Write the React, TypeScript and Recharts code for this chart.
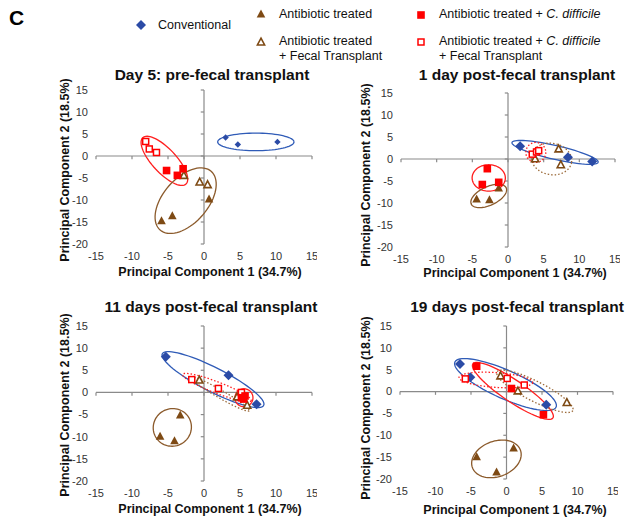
import React from "react";
import { ScatterChart, Scatter, XAxis, YAxis, ReferenceLine } from "recharts";

type Pt = { x: number; y: number };
type Group = "conventional" | "abx" | "abxFT" | "cdiff" | "cdiffFT";
type Ring = { group: Group; cx: number; cy: number; a: number; b: number; angle: number };

const xTicks = [-15, -10, -5, 0, 5, 10, 15];
const yTicks = [-20, -15, -10, -5, 0, 5, 10, 15];

const xTitle = "Principal Component 1 (34.7%)";
const yTitle = "Principal Component 2 (18.5%)";

// Day 5: pre-fecal transplant
const d5Conventional: Pt[] = [{ x: 3.0, y: 4.2 }, { x: 4.7, y: 2.6 }, { x: 10.2, y: 3.2 }];
const d5Abx: Pt[] = [{ x: -5.9, y: -14.7 }, { x: -4.4, y: -13.6 }, { x: 0.7, y: -9.8 }];
const d5AbxFT: Pt[] = [{ x: -2.8, y: -4.4 }, { x: -0.6, y: -5.9 }, { x: 0.5, y: -6.5 }];
const d5Cdiff: Pt[] = [{ x: -5.2, y: -3.3 }, { x: -3.7, y: -4.4 }, { x: -2.9, y: -2.9 }];
const d5CdiffFT: Pt[] = [{ x: -8.1, y: 3.3 }, { x: -7.6, y: 1.6 }, { x: -6.6, y: 0.8 }];
const d5Rings: Ring[] = [
  { group: "conventional", cx: 7.2, cy: 3.2, a: 5.3, b: 1.22, angle: 0 },
  { group: "cdiff", cx: -5.5, cy: -1.1, a: 4.4, b: 1.67, angle: 47 },
  { group: "abx", cx: -2.55, cy: -10.15, a: 5.4, b: 3.1, angle: -49 },
];

// 1 day post-fecal transplant
const d1Conventional: Pt[] = [{ x: 1.7, y: 2.9 }, { x: 8.4, y: 0.4 }, { x: 11.8, y: -0.55 }];
const d1Abx: Pt[] = [{ x: -4.4, y: -9.1 }, { x: -2.6, y: -9.25 }, { x: -1.3, y: -6.6 }];
const d1AbxFT: Pt[] = [{ x: 3.8, y: 0.05 }, { x: 7.1, y: 2.3 }, { x: 7.4, y: -1.3 }];
const d1Cdiff: Pt[] = [{ x: -2.9, y: -2.2 }, { x: -3.6, y: -5.8 }, { x: -1.3, y: -5.3 }];
const d1CdiffFT: Pt[] = [{ x: 3.4, y: 1.1 }, { x: 4.0, y: 1.6 }, { x: 4.3, y: 1.9 }];
const d1Rings: Ring[] = [
  { group: "conventional", cx: 6.6, cy: 1.5, a: 6.2, b: 0.97, angle: 12.9 },
  { group: "cdiffFT", cx: 3.9, cy: 1.5, a: 1.4, b: 1.4, angle: 0 },
  { group: "abxFT", cx: 6.1, cy: 0, a: 2.85, b: 2.2, angle: 10 },
  { group: "cdiff", cx: -2.7, cy: -4.3, a: 2.33, b: 1.85, angle: 0 },
  { group: "abx", cx: -2.7, cy: -8.4, a: 2.7, b: 1.3, angle: -25 },
];

// 11 days post-fecal transplant
const d11Conventional: Pt[] = [{ x: -5.3, y: 8.05 }, { x: 3.4, y: 3.9 }, { x: 7.3, y: -2.65 }];
const d11Abx: Pt[] = [{ x: -3.3, y: -5.1 }, { x: -6.1, y: -9.9 }, { x: -4.1, y: -10.9 }];
const d11AbxFT: Pt[] = [{ x: -0.65, y: 2.8 }, { x: 4.6, y: -1.0 }, { x: 6.0, y: -2.9 }];
const d11Cdiff: Pt[] = [{ x: 5.2, y: -1.2 }, { x: 5.7, y: -0.8 }, { x: 5.5, y: -1.5 }];
const d11CdiffFT: Pt[] = [{ x: -1.7, y: 2.9 }, { x: 2.0, y: 0.9 }, { x: 5.2, y: 0 }];
const d11Rings: Ring[] = [
  { group: "conventional", cx: 1.25, cy: 2.9, a: 7.9, b: 1.67, angle: 27 },
  { group: "cdiffFT", cx: 1.8, cy: 1.1, a: 5.1, b: 0.78, angle: 21 },
  { group: "abxFT", cx: 2.3, cy: -0.4, a: 4.6, b: 0.55, angle: 30 },
  { group: "cdiff", cx: 5.55, cy: -1.2, a: 1.25, b: 1.25, angle: 0 },
  { group: "abx", cx: -4.4, cy: -7.9, a: 2.67, b: 2.6, angle: -30 },
];

// 19 days post-fecal transplant
const d19Conventional: Pt[] = [{ x: -6.55, y: 6.3 }, { x: -5.1, y: 3.3 }, { x: 5.6, y: -3.0 }];
const d19Abx: Pt[] = [{ x: -4.2, y: -14.9 }, { x: -1.4, y: -18.4 }, { x: 1.0, y: -12.9 }];
const d19AbxFT: Pt[] = [{ x: -0.84, y: 3.6 }, { x: 1.6, y: 0.15 }, { x: 8.5, y: -2.5 }];
const d19Cdiff: Pt[] = [{ x: -4.2, y: 5.8 }, { x: 0.7, y: 0.7 }, { x: 5.2, y: -5.3 }];
const d19CdiffFT: Pt[] = [{ x: -5.8, y: 2.9 }, { x: 0.1, y: 3.0 }, { x: 2.5, y: 1.5 }];
const d19Rings: Ring[] = [
  { group: "conventional", cx: -0.14, cy: 1.6, a: 7.8, b: 2.0, angle: 24 },
  { group: "cdiff", cx: 0.9, cy: 0.15, a: 6.8, b: 1.53, angle: 34 },
  { group: "cdiffFT", cx: -1.5, cy: 2.65, a: 5.2, b: 1.04, angle: 4 },
  { group: "abxFT", cx: 4.0, cy: 0.07, a: 6.0, b: 1.4, angle: 27 },
  { group: "abx", cx: -1.42, cy: -15.4, a: 3.6, b: 2.5, angle: -20 },
];

const FONT = "Arial, 'Liberation Sans', sans-serif";

const ringStyle: Record<Group, { color: string; dash?: string }> = {
  conventional: { color: "#2F5BB7" },
  abx: { color: "#8B5A2B" },
  abxFT: { color: "#9C6B3A", dash: "1.5 2" },
  cdiff: { color: "#FF1F1F" },
  cdiffFT: { color: "#FF1F1F", dash: "1.5 2" },
};

// ellipse outline in data units; a, b given in x-units, angle clockwise on screen
const ringPoints = (r: Ring, yRatio: number): Pt[] => {
  const th = (r.angle * Math.PI) / 180;
  const out: Pt[] = [];
  for (let i = 0; i <= 72; i++) {
    const t = (i / 72) * Math.PI * 2;
    const sx = r.a * Math.cos(t) * Math.cos(th) - r.b * Math.sin(t) * Math.sin(th);
    const sy = r.a * Math.cos(t) * Math.sin(th) + r.b * Math.sin(t) * Math.cos(th);
    out.push({ x: r.cx + sx, y: r.cy - sy * yRatio });
  }
  return out;
};

const Marker = ({ kind, cx, cy, big }: { kind: Group; cx: number; cy: number; big?: boolean }) => {
  if (kind === "conventional") {
    const r = big ? 5 : 3.2;
    return <path d={`M${cx},${cy - r}L${cx + r},${cy}L${cx},${cy + r}L${cx - r},${cy}Z`} fill="#2B4BA6" />;
  }
  if (kind === "abx")
    return <path d={`M${cx},${cy - 4.5}L${cx + 4.3},${cy + 3.5}L${cx - 4.3},${cy + 3.5}Z`} fill="#7E4A14" />;
  if (kind === "abxFT")
    return (
      <path
        d={`M${cx},${cy - 3.8}L${cx + 3.6},${cy + 3}L${cx - 3.6},${cy + 3}Z`}
        fill="#fff"
        stroke="#7E4A14"
        strokeWidth={1.6}
      />
    );
  if (kind === "cdiff") return <rect x={cx - 3.8} y={cy - 3.8} width={7.6} height={7.6} fill="#FF0000" />;
  return <rect x={cx - 3} y={cy - 3} width={6} height={6} fill="#fff" stroke="#FF0000" strokeWidth={1.5} />;
};

type PanelProps = {
  left: number;
  top: number;
  pw: number;
  ph: number;
  title: string;
  titleX: number;
  titleY: number;
  xTitleX: number;
  xTitleY: number;
  yTitleX: number;
  yTitleY: number;
  bigDiamond?: boolean;
  series: [Group, Pt[]][];
  rings: Ring[];
};

const Panel = (p: PanelProps) => {
  const yAxisW = 45;
  const chartW = p.pw + yAxisW + 5;
  const chartH = p.ph + 5 + 5 + 20;
  const yRatio = p.pw / 30 / (p.ph / 35);
  const tickStyle = { fontSize: 11, fill: "#333", fontFamily: FONT };
  return (
    <>
      <div style={{ position: "absolute", left: p.left - yAxisW, top: p.top - 5 }}>
        <ScatterChart width={chartW} height={chartH} margin={{ top: 5, right: 5, bottom: 5, left: 0 }}>
          <XAxis
            type="number"
            dataKey="x"
            domain={[-15, 15]}
            ticks={xTicks}
            interval={0}
            allowDataOverflow
            axisLine={false}
            tickLine={false}
            height={20}
            tick={tickStyle}
          />
          <YAxis
            type="number"
            dataKey="y"
            domain={[-20, 15]}
            ticks={yTicks}
            interval={0}
            allowDataOverflow
            axisLine={false}
            tickLine={false}
            width={yAxisW}
            tick={tickStyle}
          />
          <ReferenceLine y={0} stroke="#8a8a8a" strokeWidth={1.2} />
          <ReferenceLine x={0} stroke="#8a8a8a" strokeWidth={1.2} />
          {xTicks.map((v) => (
            <ReferenceLine
              key={"xt" + v}
              segment={[{ x: v, y: 0 }, { x: v, y: -0.75 }]}
              stroke="#8a8a8a"
              strokeWidth={1.2}
            />
          ))}
          {yTicks.map((v) => (
            <ReferenceLine
              key={"yt" + v}
              segment={[{ x: 0, y: v }, { x: -0.45, y: v }]}
              stroke="#8a8a8a"
              strokeWidth={1.2}
            />
          ))}
          {p.rings.map((r, i) => (
            <Scatter
              key={"ring" + i}
              data={ringPoints(r, yRatio)}
              line={{
                stroke: ringStyle[r.group].color,
                strokeWidth: 1.3,
                strokeDasharray: ringStyle[r.group].dash,
                fill: "none",
              }}
              lineType="joint"
              shape={() => <g />}
              isAnimationActive={false}
            />
          ))}
          {p.series.map(([g, pts]) => (
            <Scatter
              key={g}
              data={pts}
              isAnimationActive={false}
              shape={(s: any) => <Marker kind={g} cx={s.cx} cy={s.cy} big={p.bigDiamond} />}
            />
          ))}
        </ScatterChart>
      </div>
      <div style={{ ...centered(p.titleX, p.titleY), fontSize: 15.5, fontWeight: "bold" }}>{p.title}</div>
      <div style={{ ...centered(p.xTitleX, p.xTitleY), fontSize: 12.5, fontWeight: "bold" }}>{xTitle}</div>
      <div
        style={{
          ...centered(p.yTitleX, p.yTitleY),
          fontSize: 12.5,
          fontWeight: "bold",
          transform: "translate(-50%, -50%) rotate(-90deg)",
        }}
      >
        {yTitle}
      </div>
    </>
  );
};

const centered = (x: number, y: number): React.CSSProperties => ({
  position: "absolute",
  left: x,
  top: y,
  transform: "translate(-50%, -50%)",
  whiteSpace: "nowrap",
  color: "#111",
  lineHeight: 1,
});

const Legend = () => {
  const t = { fontSize: 12.5, fill: "#111", fontFamily: FONT, dominantBaseline: "central" as const };
  return (
    <svg width={634} height={70} style={{ position: "absolute", left: 0, top: 0 }}>
      <text x={9} y={17} fontSize={21} fontWeight="bold" fontFamily={FONT} dominantBaseline="central">
        C
      </text>
      <Marker kind="conventional" cx={141} cy={25} big />
      <text x={158} y={25} {...t}>Conventional</text>
      <Marker kind="abx" cx={261} cy={14} />
      <text x={279} y={14} {...t}>Antibiotic treated</text>
      <Marker kind="abxFT" cx={261} cy={42} />
      <text x={279} y={41} {...t}>Antibiotic treated</text>
      <text x={279} y={56} {...t}>+ Fecal Transplant</text>
      <Marker kind="cdiff" cx={421} cy={15} />
      <text x={439} y={14} {...t}>
        Antibiotic treated + <tspan fontStyle="italic">C. difficile</tspan>
      </text>
      <Marker kind="cdiffFT" cx={421} cy={42} />
      <text x={439} y={41} {...t}>
        Antibiotic treated + <tspan fontStyle="italic">C. difficile</tspan>
      </text>
      <text x={439} y={56} {...t}>+ Fecal Transplant</text>
    </svg>
  );
};

export default function App() {
  return (
    <div
      style={{
        position: "absolute",
        left: 0,
        top: 0,
        width: 634,
        height: 523,
        background: "#fff",
        fontFamily: FONT,
        overflow: "hidden",
      }}
    >
      <Legend />
      <Panel
        left={96}
        top={90}
        pw={216}
        ph={154}
        title="Day 5: pre-fecal transplant"
        titleX={212}
        titleY={75}
        xTitleX={210}
        xTitleY={272}
        yTitleX={65}
        yTitleY={170}
        series={[
          ["conventional", d5Conventional],
          ["abx", d5Abx],
          ["abxFT", d5AbxFT],
          ["cdiff", d5Cdiff],
          ["cdiffFT", d5CdiffFT],
        ]}
        rings={d5Rings}
      />
      <Panel
        left={401}
        top={93}
        pw={214}
        ph={154}
        title="1 day post-fecal transplant"
        titleX={517}
        titleY={75}
        xTitleX={515}
        xTitleY={273}
        yTitleX={366}
        yTitleY={175}
        bigDiamond
        series={[
          ["conventional", d1Conventional],
          ["abx", d1Abx],
          ["abxFT", d1AbxFT],
          ["cdiff", d1Cdiff],
          ["cdiffFT", d1CdiffFT],
        ]}
        rings={d1Rings}
      />
      <Panel
        left={96}
        top={326}
        pw={216}
        ph={155}
        title="11 days post-fecal transplant"
        titleX={211}
        titleY={307}
        xTitleX={210}
        xTitleY={509}
        yTitleX={65}
        yTitleY={405}
        bigDiamond
        series={[
          ["conventional", d11Conventional],
          ["abx", d11Abx],
          ["abxFT", d11AbxFT],
          ["cdiffFT", d11CdiffFT],
          ["cdiff", d11Cdiff],
        ]}
        rings={d11Rings}
      />
      <Panel
        left={400}
        top={326}
        pw={213}
        ph={153}
        title="19 days post-fecal transplant"
        titleX={517}
        titleY={307}
        xTitleX={515}
        xTitleY={510}
        yTitleX={366}
        yTitleY={408}
        bigDiamond
        series={[
          ["conventional", d19Conventional],
          ["abx", d19Abx],
          ["abxFT", d19AbxFT],
          ["cdiff", d19Cdiff],
          ["cdiffFT", d19CdiffFT],
        ]}
        rings={d19Rings}
      />
    </div>
  );
}
